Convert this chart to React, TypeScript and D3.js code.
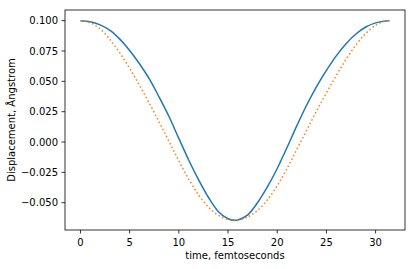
import * as d3 from 'd3';

// time samples (fs) and the two displacement traces (Å)
const times = [
  0, 1, 2, 3, 4, 5, 6, 7, 8, 9, 10, 11, 12, 13, 14, 15, 15.7, 16, 17, 18, 19,
  20, 21, 22, 23, 24, 25, 26, 27, 28, 29, 30, 31, 31.42,
];
const solidSeries = [
  0.1, 0.0992, 0.0965, 0.092, 0.0848, 0.0755, 0.0645, 0.052, 0.037, 0.021,
  0.003, -0.0148, -0.031, -0.0455, -0.0572, -0.0632, -0.0645, -0.0642, -0.06,
  -0.05, -0.037, -0.0218, -0.0045, 0.0135, 0.0305, 0.0457, 0.059, 0.071, 0.081,
  0.089, 0.0948, 0.0982, 0.0998, 0.1,
];
const dottedSeries = [
  0.1, 0.0983, 0.0932, 0.0845, 0.0735, 0.0607, 0.0467, 0.032, 0.0165, 0.0005,
  -0.0155, -0.0305, -0.0435, -0.0535, -0.0603, -0.0638, -0.0648, -0.0646,
  -0.0618, -0.0564, -0.0477, -0.036, -0.0218, -0.006, 0.0098, 0.0255, 0.0405,
  0.0548, 0.0681, 0.0799, 0.0895, 0.0962, 0.0997, 0.1,
];
const xTicks = [0, 5, 10, 15, 20, 25, 30];
const yTicks = [-0.05, -0.025, 0, 0.025, 0.05, 0.075, 0.1];

const W = 416;
const H = 269;
const plot = { left: 65, right: 405, top: 10, bottom: 230 };
const font = 'DejaVu Sans, sans-serif';

export default function App() {
  const x = d3.scaleLinear().domain([-1.571, 32.99]).range([plot.left, plot.right]);
  const y = d3.scaleLinear().domain([-0.0725, 0.1088]).range([plot.bottom, plot.top]);

  const line = d3
    .line<number>()
    .x((_, i) => x(times[i]))
    .y((d) => y(d))
    .curve(d3.curveCatmullRom.alpha(0.5));

  const fmt = (v: number) => d3.format('.3f')(v).replace('-', '\u2212');

  return (
    <svg
      width={W}
      height={H}
      style={{ position: 'absolute', left: 0, top: 0, background: '#fff' }}
      fontFamily={font}
    >
      <rect x={0} y={0} width={W} height={H} fill="#fff" />

      <path d={line(solidSeries) || ''} fill="none" stroke="#1f77b4" strokeWidth={1.5} />
      <path
        d={line(dottedSeries) || ''}
        fill="none"
        stroke="#ff7f0e"
        strokeWidth={1.5}
        strokeDasharray="1.5 2.5"
      />

      {/* x axis ticks */}
      {xTicks.map((t) => (
        <g key={'x' + t} transform={`translate(${x(t)},${plot.bottom})`}>
          <line y2={3.5} stroke="#000" strokeWidth={0.8} />
          <text y={16} textAnchor="middle" fontSize={10} fill="#000">
            {t}
          </text>
        </g>
      ))}

      {/* y axis ticks */}
      {yTicks.map((t) => (
        <g key={'y' + t} transform={`translate(${plot.left},${y(t)})`}>
          <line x2={-3.5} stroke="#000" strokeWidth={0.8} />
          <text x={-7} dy="0.35em" textAnchor="end" fontSize={10} fill="#000">
            {fmt(t)}
          </text>
        </g>
      ))}

      {/* spines */}
      <rect
        x={plot.left}
        y={plot.top}
        width={plot.right - plot.left}
        height={plot.bottom - plot.top}
        fill="none"
        stroke="#000"
        strokeWidth={0.8}
      />

      <text
        x={(plot.left + plot.right) / 2}
        y={259}
        textAnchor="middle"
        fontSize={10}
        fill="#000"
      >
        time, femtoseconds
      </text>
      <text
        transform={`translate(15,${(plot.top + plot.bottom) / 2}) rotate(-90)`}
        textAnchor="middle"
        fontSize={10}
        fill="#000"
      >
        Displacement, Ångstrom
      </text>
    </svg>
  );
}
